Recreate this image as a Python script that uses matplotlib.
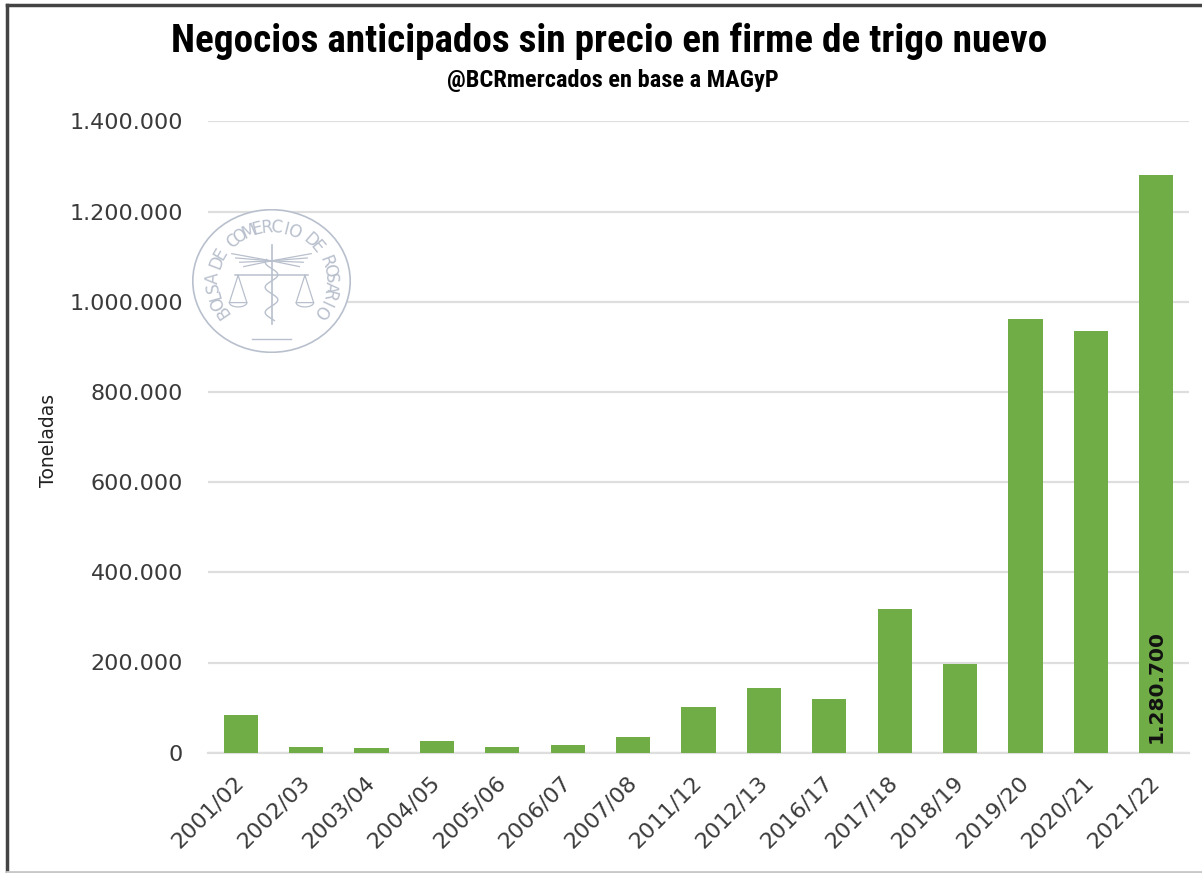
import numpy as np
import matplotlib
matplotlib.use('Agg')
import matplotlib.pyplot as plt
from matplotlib import font_manager
from matplotlib.patches import Ellipse
from matplotlib.lines import Line2D
from matplotlib.ticker import FuncFormatter

# Data
campaigns = ['2001/02', '2002/03', '2003/04', '2004/05', '2005/06', '2006/07', '2007/08',
             '2011/12', '2012/13', '2016/17', '2017/18', '2018/19', '2019/20', '2020/21', '2021/22']
tons = [83000, 13000, 10000, 25000, 13000, 16000, 35000,
        101000, 144000, 118000, 319000, 196000, 962000, 935000, 1280700]
y_ticks = [0, 200000, 400000, 600000, 800000, 1000000, 1200000, 1400000]

W, H = 1202, 873
fig = plt.figure(figsize=(W / 100, H / 100), dpi=100)
fig.patch.set_facecolor('white')

# narrow heavy font for the title if one is around
installed = {f.name for f in font_manager.fontManager.ttflist}
title_family = 'Roboto'
for name in ['DejaVu Sans Condensed', 'Liberation Sans Narrow', 'Roboto Condensed', 'Open Sans Condensed']:
    if name in installed:
        title_family = name
        break

def px(x0, y0, x1, y1):
    # pixel box (top-left origin) -> figure fraction rect
    return [x0 / W, 1 - y1 / H, (x1 - x0) / W, (y1 - y0) / H]

ax = fig.add_axes(px(208, 121.3, 1189, 752.7))
x = np.arange(len(campaigns))
ax.bar(x, tons, width=0.52, color='#70ad47', zorder=3)
ax.set_xlim(-0.5, len(campaigns) - 0.5)
ax.set_ylim(0, 1400000)
ax.set_yticks(y_ticks)
ax.yaxis.set_major_formatter(FuncFormatter(lambda v, p: f'{int(v):,}'.replace(',', '.')))
ax.grid(axis='y', color='#dedede', linewidth=1.6, zorder=0)
ax.set_axisbelow(True)
for s in ['top', 'right', 'left']:
    ax.spines[s].set_visible(False)
ax.spines['bottom'].set_color('#dedede')
ax.spines['bottom'].set_linewidth(1.6)
ax.tick_params(axis='both', length=0, labelsize=16, labelcolor='#3a3a3a')
ax.tick_params(axis='y', pad=18)
ax.set_xticks(x)
ax.set_xticklabels(campaigns, rotation=45, ha='right', va='center', rotation_mode='anchor')
ax.tick_params(axis='x', pad=19)
ax.set_ylabel('Toneladas', fontsize=13.5, color='#202020')
ax.yaxis.set_label_coords(-0.153, 0.495)

# value label on last bar
ax.text(x[-1], 22000, f'{tons[-1]:,}'.replace(',', '.'), rotation=90, ha='center', va='bottom',
        fontsize=14.5, fontweight='bold', color='#111111', zorder=4)

# titles
title = fig.text(0.507, 1 - 41 / H, 'Negocios anticipados sin precio en firme de trigo nuevo',
                 family=title_family, fontweight='heavy', fontstretch='condensed', fontsize=26,
                 ha='center', va='center', color='black')
sub = fig.text(0.51, 1 - 81 / H, '@BCRmercados en base a MAGyP',
               family=title_family, fontweight='heavy', fontstretch='condensed', fontsize=13,
               ha='center', va='center', color='black')

# fit title widths to the reference
fig.canvas.draw()
r = fig.canvas.get_renderer()
for t, target in [(title, 877), (sub, 330)]:
    w = t.get_window_extent(r).width
    t.set_fontsize(t.get_fontsize() * target / w)

# frame lines around picture
fig.add_artist(Line2D([7 / W, 1], [1 - 5 / H, 1 - 5 / H], transform=fig.transFigure, color='#444444', lw=2.5))
fig.add_artist(Line2D([7 / W, 7 / W], [1 - 5 / H, 0], transform=fig.transFigure, color='#444444', lw=2.5))
fig.add_artist(Line2D([7 / W, 1], [1.5 / H, 1.5 / H], transform=fig.transFigure, color='#c8c8c8', lw=2))

# watermark seal
wm = fig.add_axes(px(192, 209, 351, 353))
wm.set_xlim(-1, 1)
wm.set_ylim(-1, 1)
wm.axis('off')
wc = '#b9c0cd'
wm.add_patch(Ellipse((0, 0), 1.98, 1.98, facecolor='white', edgecolor=wc, lw=1.2))
seal = 'BOLSA DE COMERCIO DE ROSARIO'
angles = np.linspace(214, -34, len(seal))
for ch, a in zip(seal, angles):
    rad = np.radians(a)
    wm.text(0.74 * np.cos(rad), 0.74 * np.sin(rad), ch, rotation=a - 90, ha='center', va='center',
            fontsize=12, color=wc, family='DejaVu Sans')
# emblem: staff, wings, beam, pans
wm.plot([0, 0], [-0.6, 0.5], color=wc, lw=1.2)
tt = np.linspace(-0.55, 0.3, 60)
wm.plot(0.08 * np.sin(tt * 18), tt, color=wc, lw=1)
for sgn in [-1, 1]:
    for k in range(4):
        wm.plot([0, sgn * (0.5 - 0.05 * k)], [0.28, 0.38 - 0.06 * k], color=wc, lw=0.9)
    wm.plot([sgn * 0.42, sgn * 0.31, sgn * 0.53, sgn * 0.42], [0.08, -0.3, -0.3, 0.08], color=wc, lw=0.9)
    arc = np.linspace(0, np.pi, 20)
    wm.plot(sgn * 0.42 + 0.11 * np.cos(arc), -0.3 - 0.06 * np.sin(arc), color=wc, lw=0.9)
wm.plot([-0.46, 0.46], [0.08, 0.08], color=wc, lw=1.1)
wm.plot([-0.25, 0.25], [-0.8, -0.8], color=wc, lw=1)

fig.savefig('out.png', dpi=100, facecolor='white')
